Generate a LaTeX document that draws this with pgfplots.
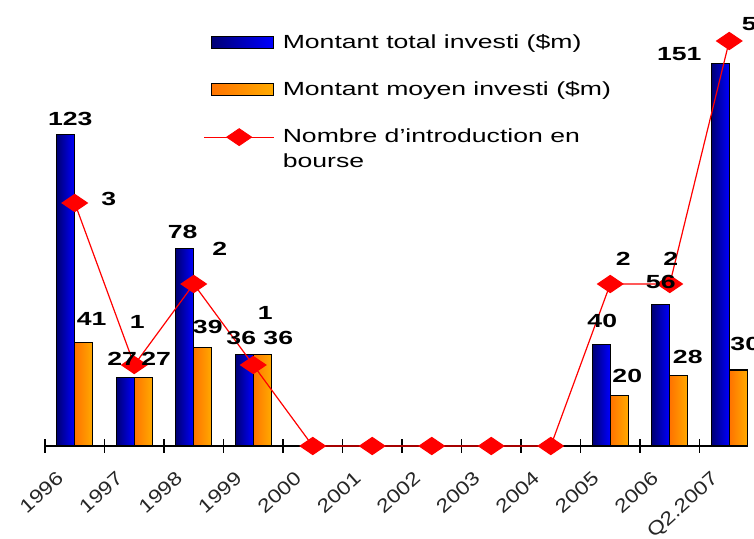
\documentclass[border=0pt]{standalone}
\usepackage{fontspec}
\setmainfont{Liberation Sans}[FakeStretch=1.4]
\newfontfamily\tickfont{Liberation Sans}[FakeStretch=1.2]
\usepackage{pgfplots}
\pgfplotsset{compat=1.18}
\usepackage{pgfplotstable}

\definecolor{bluedark}{RGB}{0,0,115}
\definecolor{bluelight}{RGB}{0,0,255}
\definecolor{orgdark}{RGB}{255,115,0}
\definecolor{orglight}{RGB}{255,170,0}
\definecolor{linered}{RGB}{255,0,0}

% x = category index, y = value, dx/dy = label offsets (pt)
\pgfplotstableread{
x y dx dy
0 123 -2.25 4.5
1 27 -6 6
2 78 -5.5 4.5
3 36 -6 5
9 40 -4 8.5
10 56 -4.5 7.5
11 151 -25 1.5
}\totaltab

\pgfplotstableread{
x y dx dy
0 41 8.5 8
1 27 11 6
2 39 7 6.5
3 36 12.5 5
9 20 8.5 6
10 28 9 5.5
11 30 8 9.5
}\meantab

\pgfplotstableread{
x y lab dx dy
0 3 3 17 2
1 1 1 1.5 21.5
2 2 2 13 17.5
3 1 1 6 26
4 0 {} 0 0
5 0 {} 0 0
6 0 {} 0 0
7 0 {} 0 0
8 0 {} 0 0
9 2 2 6.5 12.5
10 2 2 0.5 12.5
11 5 5 10 8.5
}\counttab

\pgfplotsset{
  common/.style={
    width=351.5pt, height=202.5pt, scale only axis,
    at={(0pt,0pt)}, anchor=south west,
    xmin=-0.5, xmax=11.315, clip=false,
    /pgf/number format/assume math mode=true,
  },
  lbl/.style={
    visualization depends on={\thisrow{dx} \as \myDX},
    visualization depends on={\thisrow{dy} \as \myDY},
    nodes near coords style={anchor=#1, inner sep=0pt, text=black,
      font=\bfseries\fontsize{9.5}{11}\selectfont,
      xshift=\myDX pt, yshift=\myDY pt},
  },
}

\begin{document}
\begin{tikzpicture}
% bars and x axis
\begin{axis}[common,
  ymin=0, ymax=160,
  axis x line*=bottom, axis y line=none, ytick=\empty,
  x axis line style={black, line width=0.6pt},
  xtick={0,...,11},
  xticklabels={1996,1997,1998,1999,2000,2001,2002,2003,2004,2005,2006,Q2.2007},
  major tick length=0pt,
  minor xtick={-0.5,0.5,...,10.5},
  minor tick length=7pt,
  tick align=center,
  minor tick style={black, line width=0.6pt},
  xticklabel style={xshift=-9.5pt, yshift=-12pt, rotate=42, anchor=north east,
    inner sep=0pt, text=black!85, font=\tickfont\fontsize{9.5}{11}\selectfont},
  legend style={at={(rel axis cs:0.225,1.018)}, anchor=north west,
    draw=none, fill=none, inner sep=0pt, row sep=15pt, column sep=4pt,
    font=\fontsize{9.5}{12.5}\selectfont, nodes={inner sep=0pt},
    cells={align=left, anchor=west}},
]
\addlegendimage{legend image code/.code={\draw[draw=black, line width=0.6pt, left color=bluedark, right color=bluelight] (3.5pt,-3pt) rectangle (34.5pt,3pt);}}
\addlegendentry{Montant total investi (\$m)}
\addlegendimage{legend image code/.code={\draw[draw=black, line width=0.6pt, left color=orgdark, right color=orglight] (3.5pt,-3pt) rectangle (34.5pt,3pt);}}
\addlegendentry{Montant moyen investi (\$m)}
\addlegendimage{legend image code/.code={%
    \draw[linered, line width=0.6pt] (0pt,6.25pt) -- (35pt,6.25pt);
    \fill[linered] (11.25pt,6.25pt) -- (17.5pt,10.5pt) -- (23.75pt,6.25pt) -- (17.5pt,2pt) -- cycle;}}
\addlegendentry{Nombre d'introduction en\\bourse}
\pgfplotsinvokeforeach{-0.1:0.1, 0.9:1.1, 1.9:2.1, 2.9:3.1, 8.9:9.1, 9.9:10.1, 10.9:11.1}{
  \addplot[ybar, bar width=9pt, bar shift=-4.5pt, draw=black, line width=0.6pt,
    left color=bluedark, right color=bluelight, forget plot,
    restrict x to domain=#1]
    table[x=x, y=y] {\totaltab};
  \addplot[ybar, bar width=9pt, bar shift=4.5pt, draw=black, line width=0.6pt,
    left color=orgdark, right color=orglight, forget plot,
    restrict x to domain=#1]
    table[x=x, y=y] {\meantab};
}
\end{axis}
% line on the secondary scale
\begin{axis}[common, ymin=0, ymax=5, hide axis]
\addplot[linered, line width=0.6pt, mark=diamond*, mark size=4.25pt,
  mark options={xscale=1.96, fill=linered, draw=linered, solid},
  point meta=explicit symbolic, nodes near coords, lbl=center]
  table[x=x, y=y, meta=lab] {\counttab};
\end{axis}
% bar value labels on top
\begin{axis}[common, ymin=0, ymax=160, hide axis]
\addplot[draw=none, mark=none, nodes near coords, point meta=y, lbl=south]
  table[x=x, y=y] {\totaltab};
\addplot[draw=none, mark=none, nodes near coords, point meta=y, lbl=south]
  table[x=x, y=y] {\meantab};
\end{axis}
\pgfresetboundingbox
\useasboundingbox (-22.5pt,-46.5pt) rectangle (354.5pt,223pt);
\end{tikzpicture}
\end{document}
